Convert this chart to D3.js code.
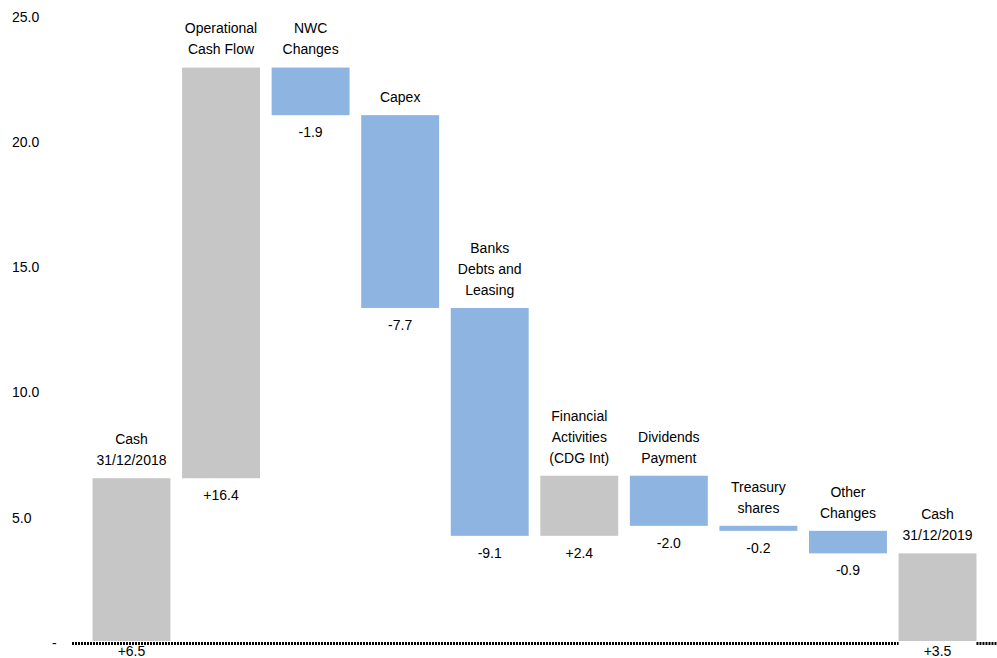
<!DOCTYPE html>
<html>
<head>
<meta charset="utf-8">
<script src="https://cdn.jsdelivr.net/npm/d3@7"></script>
<style>
  body { margin: 0; background: #fff; }
  text { font-family: "Liberation Sans", Arial, sans-serif; fill: #000; }
</style>
</head>
<body>
<div id="chart"></div>
<script>
const categories = [
    ["Cash", "31/12/2018"],
    ["Operational", "Cash Flow"],
    ["NWC", "Changes"],
    ["Capex"],
    ["Banks", "Debts and", "Leasing"],
    ["Financial", "Activities", "(CDG Int)"],
    ["Dividends", "Payment"],
    ["Treasury", "shares"],
    ["Other", "Changes"],
    ["Cash", "31/12/2019"]
]
const values = [6.5, 16.4, -1.9, -7.7, -9.1, 2.4, -2.0, -0.2, -0.9, 3.5]
const isTotal = [true, false, false, false, false, false, false, false, false, true]
const yTicks = [0, 5, 10, 15, 20, 25]

const render = () => {
    const width = 997
    const height = 658
    const grey = "#c6c6c6"
    const blue = "#8eb4e2"

    // running start/end for each step of the waterfall
    let running = 0
    const dataset = categories.map((c, i) => {
        let start, end
        if (isTotal[i]) { start = 0; end = values[i]; running = values[i] }
        else { start = running; end = running + values[i]; running = end }
        return { name: c, value: values[i], total: isTotal[i], start, end, i }
    })

    const svg = d3.select("#chart")
        .append("svg")
        .attr("width", width)
        .attr("height", height)

    const xScale = d3.scaleBand()
        .domain(d3.range(categories.length))
        .range([86.7, 982.3])
        .paddingInner(0.13)
        .paddingOuter(0.065)

    const yScale = d3.scaleLinear()
        .domain([0, 25])
        .range([641, 15])

    // y axis, labels only
    const yAxis = d3.axisLeft(yScale)
        .tickValues(yTicks)
        .tickSize(0)
        .tickFormat(d => d === 0 ? "-" : d.toFixed(1))
    const yg = svg.append("g").attr("id", "y-axis").call(yAxis)
    yg.select(".domain").remove()
    yg.selectAll("text")
        .attr("text-anchor", "start")
        .attr("x", d => d === 0 ? 52 : 12)
        .attr("dy", "0.45em")
        .style("font-size", "14px")
        .style("font-family", "'Liberation Sans', Arial, sans-serif")
        .attr("fill", "#000")

    // dotted baseline, broken under the closing bar
    const last = categories.length - 1
    const baseY = yScale(0) + 2.5
    const segs = [[72, xScale(last)], [xScale(last) + xScale.bandwidth(), width]]
    svg.append("g").selectAll("line")
        .data(segs)
        .join("line")
        .attr("x1", d => d[0])
        .attr("x2", d => d[1])
        .attr("y1", baseY)
        .attr("y2", baseY)
        .attr("stroke", "#000")
        .attr("stroke-width", 3)
        .attr("stroke-dasharray", "2,1")

    svg.append("g").selectAll("rect")
        .data(dataset)
        .join("rect")
        .attr("x", d => xScale(d.i))
        .attr("width", xScale.bandwidth())
        .attr("y", d => yScale(Math.max(d.start, d.end)))
        .attr("height", d => Math.abs(yScale(d.start) - yScale(d.end)))
        .attr("fill", d => (d.total || d.value > 0) ? grey : blue)

    // category labels above bars
    const lineH = 21
    const catG = svg.append("g").selectAll("text")
        .data(dataset)
        .join("text")
        .attr("text-anchor", "middle")
        .style("font-size", "14px")
        .attr("transform", d => {
            const top = yScale(Math.max(d.start, d.end))
            const y = top - 18 - (d.name.length - 1) * lineH
            return `translate(${xScale(d.i) + xScale.bandwidth() / 2},${y})`
        })
    catG.selectAll("tspan")
        .data(d => d.name)
        .join("tspan")
        .attr("x", 0)
        .attr("y", (d, i) => i * lineH)
        .attr("dy", "0.35em")
        .text(d => d)

    // value labels below bars
    svg.append("g").selectAll("text")
        .data(dataset)
        .join("text")
        .attr("text-anchor", "middle")
        .style("font-size", "14px")
        .attr("x", d => xScale(d.i) + xScale.bandwidth() / 2)
        .attr("y", d => yScale(Math.min(d.start, d.end)) + (d.total ? 10 : 17))
        .attr("dy", "0.35em")
        .text(d => (d.value > 0 ? "+" : "") + d.value.toFixed(1))
}

render()
</script>
</body>
</html>
